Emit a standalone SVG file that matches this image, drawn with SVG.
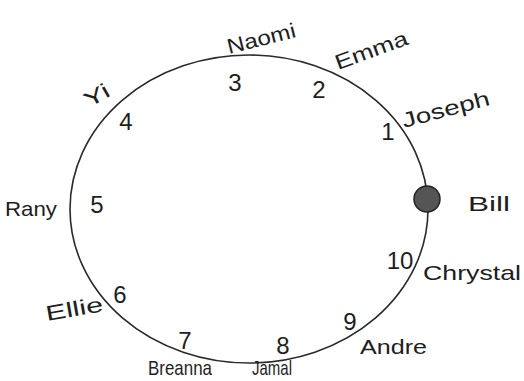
<svg xmlns="http://www.w3.org/2000/svg" width="524" height="381" viewBox="0 0 524 381">
<style>
.name{font-family:"Liberation Sans","DejaVu Sans",sans-serif;font-size:21px;fill:#1e1e1e}
.num{font-family:"Liberation Sans","DejaVu Sans",sans-serif;font-size:24px;fill:#1e1e1e;text-anchor:middle;dominant-baseline:central}
.ring{fill:none;stroke:#2a2a2a;stroke-width:1.6}
</style>
<rect width="524" height="381" fill="#ffffff"/>
<g id="connectors">
<ellipse class="ring" cx="249" cy="209" rx="179" ry="154"/>
</g>
<g id="joseph"><text class="num" x="388" y="131">1</text><text class="name" x="404" y="128" textLength="90" lengthAdjust="spacingAndGlyphs" transform="rotate(-15 404 128)">Joseph</text></g>
<g id="emma"><text class="num" x="319" y="89">2</text><text class="name" x="338" y="70" textLength="76" lengthAdjust="spacingAndGlyphs" transform="rotate(-20 338 70)">Emma</text></g>
<g id="naomi"><text class="num" x="235" y="82">3</text><text class="name" x="229" y="54" textLength="70" lengthAdjust="spacingAndGlyphs" transform="rotate(-14 229 54)">Naomi</text></g>
<g id="yi"><text class="num" x="126" y="121">4</text><text class="name" x="89" y="108" textLength="26" lengthAdjust="spacingAndGlyphs" transform="rotate(-30 89 108)">Yi</text></g>
<g id="rany"><text class="num" x="97" y="204" font-size="28">5</text><text class="name" x="5" y="216" textLength="52" lengthAdjust="spacingAndGlyphs">Rany</text></g>
<g id="ellie"><text class="num" x="120" y="294">6</text><text class="name" x="47" y="321" textLength="58" lengthAdjust="spacingAndGlyphs" transform="rotate(-10 47 321)">Ellie</text></g>
<g id="breanna"><text class="num" x="185" y="340">7</text><text class="name" x="148" y="375" font-size="15" textLength="64" lengthAdjust="spacingAndGlyphs">Breanna</text></g>
<g id="jamal"><text class="num" x="283" y="345">8</text><text class="name" x="252" y="375" font-size="15" textLength="40" lengthAdjust="spacingAndGlyphs">Jamal</text></g>
<g id="andre"><text class="num" x="350" y="321">9</text><text class="name" x="360" y="354" textLength="67" lengthAdjust="spacingAndGlyphs">Andre</text></g>
<g id="chrystal"><text class="num" x="400" y="260" font-size="20">10</text><text class="name" x="423" y="280" textLength="98" lengthAdjust="spacingAndGlyphs">Chrystal</text></g>
<g id="bill"><circle cx="427" cy="199" r="13" fill="#555" stroke="#222" stroke-width="1.5"/><text class="name" x="468" y="211" font-size="24" textLength="42" lengthAdjust="spacingAndGlyphs">Bill</text></g>
</svg>
